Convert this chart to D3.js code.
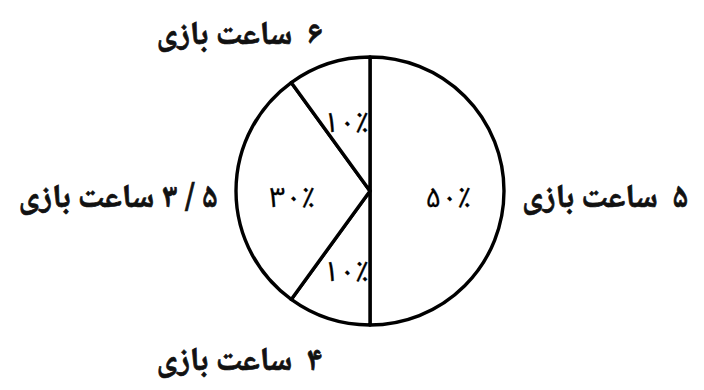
<!DOCTYPE html>
<html><head><meta charset="utf-8">
<script src="https://cdn.jsdelivr.net/npm/d3@7"></script>
<style>body{margin:0;background:#fff} svg{display:block} text{white-space:pre}</style>
</head><body><svg id="c" width="704" height="390"></svg>
<script>
// Slices in drawing order, clockwise from 12 o'clock
const hourLabels = ["۵  ساعت بازی", "۴  ساعت بازی", "۵ / ۳ ساعت بازی", "۶  ساعت بازی"];
const shares = [50, 10, 30, 10];
const shareLabels = ["۵۰٪", "۱۰٪", "۳۰٪", "۱۰٪"];

const W = 704, H = 390;
const cx = 370, cy = 191, R = 134;
const svg = d3.select("#c");
const g = svg.append("g").attr("transform", `translate(${cx},${cy})`);

const pie = d3.pie().sort(null).value(d => d);
const arcs = pie(shares);
const arc = d3.arc().innerRadius(0).outerRadius(R);
const inLabelArc = d3.arc().innerRadius(78).outerRadius(78);
const mid = d => (d.startAngle + d.endAngle) / 2;
// outer labels sit on an ellipse around the pie
const rxOut = 152, ryOut = 171, yShift = 9;

g.selectAll("path.slice").data(arcs).join("path")
  .attr("class", "slice")
  .attr("d", arc)
  .attr("fill", "#fff")
  .attr("stroke", "#000")
  .attr("stroke-width", 3.4)
  .attr("stroke-linejoin", "round");

g.selectAll("text.pct").data(arcs).join("text")
  .attr("class", "pct")
  .attr("transform", d => `translate(${inLabelArc.centroid(d)})`)
  .attr("text-anchor", "middle")
  .attr("dominant-baseline", "central")
  .attr("dy", "0.25em")
  .attr("font-family", "'Noto Sans Arabic', 'DejaVu Sans', sans-serif")
  .attr("font-size", 28)
  .attr("letter-spacing", 1)
  .attr("fill", "#000")
  .attr("stroke", "#000")
  .attr("stroke-width", 0.3)
  .text((d, i) => shareLabels[i]);

g.selectAll("text.hrs").data(arcs).join("text")
  .attr("class", "hrs")
  .attr("x", d => Math.sin(mid(d)) * rxOut)
  .attr("y", d => -Math.cos(mid(d)) * ryOut + yShift)
  .attr("direction", "rtl")
  .attr("text-anchor", d => Math.sin(mid(d)) < 0 ? "start" : "end") // rtl: start = right edge
  .attr("dominant-baseline", "central")
  .attr("font-family", "'Noto Naskh Arabic', 'Noto Sans Arabic', serif")
  .attr("font-weight", "bold")
  .attr("font-size", 33)
  .attr("fill", "#111")
  .attr("stroke", "#111")
  .attr("stroke-width", 0.7)
  .text((d, i) => hourLabels[i]);
</script></body></html>
